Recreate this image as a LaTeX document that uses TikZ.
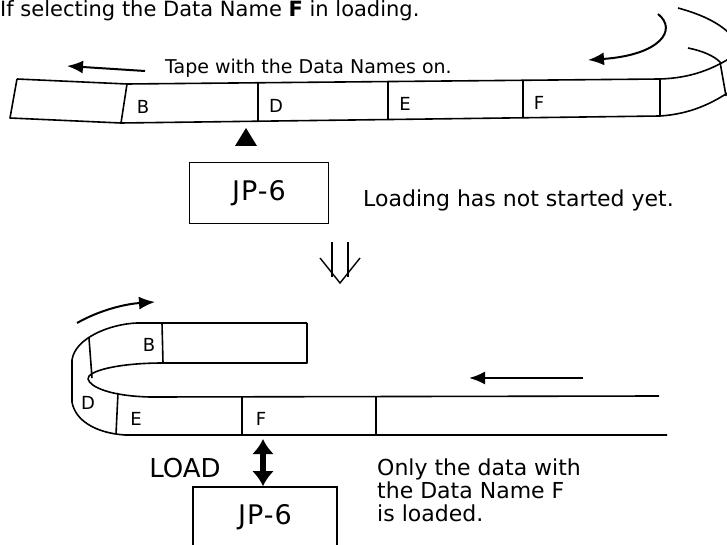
\documentclass[tikz,border=0pt]{standalone}
\usepackage{fontspec}
\setmainfont{DejaVu Sans}
\usetikzlibrary{arrows.meta}

\begin{document}
\begin{tikzpicture}[x=1pt, y=-1pt,
    tape/.style={line width=1.6pt, line join=round},
    unit/.style={rectangle, draw, line width=1.6pt, minimum width=139pt, minimum height=61pt, font=\fontsize{27}{30}\selectfont\addfontfeature{LetterSpace=4}},
    cell/.style={font=\fontsize{18}{20}\selectfont, inner sep=0pt},
    note/.style={font=\fontsize{22}{23}\selectfont, anchor=west, inner sep=0pt},
    arrow/.style={-{Latex[length=16pt, width=13pt]}, line width=2pt}
  ]
  \useasboundingbox (0,0) rectangle (727,545);

  \node[anchor=base west, inner sep=0pt, font=\fontsize{21}{23}\selectfont] (title) at (0,17) {If selecting the Data Name \textbf{F} in loading.};

  % tape before loading
  \draw[arrow] (145,71) -- (67,66);
  \node[anchor=west, inner sep=0pt, font=\fontsize{19}{21}\selectfont] (tapetxt) at (165,68) {Tape with the Data Names on.};
  \draw[tape] (17,79) -- (127,84) -- (660,79) .. controls (690,78) and (712,70) .. (735,55);
  \draw[tape] (17,79) -- (10,118) -- (121,123) -- (660,116) .. controls (690,114) and (712,104) .. (735,88);
  \draw[tape] (127,84) -- (121,123);
  \draw[tape] (258,83) -- (258,121);
  \draw[tape] (388,82) -- (388,120);
  \draw[tape] (523,80) -- (523,118);
  \draw[tape] (660,79) -- (660,116);
  \draw[tape] (678,8) .. controls (700,14) and (718,22) .. (730,34);
  \draw[tape] (688,48) .. controls (703,51) and (714,56) .. (720,62) -- (726,96);
  \draw[arrow] (658,14) .. controls (678,30) and (660,55) .. (588,60);
  \node[cell] (b1) at (143,107) {B};
  \node[cell] (d1) at (276,106) {D};
  \node[cell] (e1) at (405,104) {E};
  \node[cell] (f1) at (539,103) {F};

  \fill (246,128) -- (257,146) -- (235,146) -- cycle;
  \node[unit] (jp1) at (259,193) {JP-6};
  \node[note] (wait) at (363,200) {Loading has not started yet.};

  % next step
  \draw[line width=1.4pt] (332,242) -- (332,277) (348,242) -- (348,277);
  \draw[line width=1.4pt] (320,258) -- (340,283) -- (360,258);

  % tape while loading
  \draw[arrow] (77,323) .. controls (100,310) and (125,304) .. (155,302);
  \draw[tape] (307,323) -- (137,323) .. controls (110,324) and (75,338) .. (72,360) -- (72,402)
    .. controls (75,420) and (95,433) .. (125,435) -- (667,435);
  \draw[tape] (307,323) -- (307,363) -- (163,363) .. controls (118,363) and (87,371) .. (88,379)
    .. controls (90,387) and (110,396) .. (150,397) -- (659,396);
  \draw[tape] (162,323) -- (163,363);
  \draw[tape] (89,338) -- (92,378);
  \draw[tape] (118,393) -- (116,434);
  \draw[tape] (242,397) -- (242,435);
  \draw[tape] (376,397) -- (376,435);
  \draw[arrow] (583,378) -- (469,378);
  \node[cell] (b2) at (149,345) {B};
  \node[cell] (d2) at (88,403) {D};
  \node[cell] (e2) at (136,419) {E};
  \node[cell] (f2) at (261,419) {F};

  \node[font=\fontsize{26}{28}\selectfont, inner sep=0pt] (load) at (185,468) {LOAD};
  \node[unit, minimum width=144pt, minimum height=60pt] (jp2) at (265,517) {JP-6};
  \coordinate (feed) at (263,439);
  \draw[{Latex[length=15pt, width=22pt]}-{Latex[length=15pt, width=22pt]}, line width=6pt] (feed) -- (feed |- jp2.north);
  \node[note, align=left] (only) at (377,490) {Only the data with\\the Data Name F\\is loaded.};

\end{tikzpicture}
\end{document}
